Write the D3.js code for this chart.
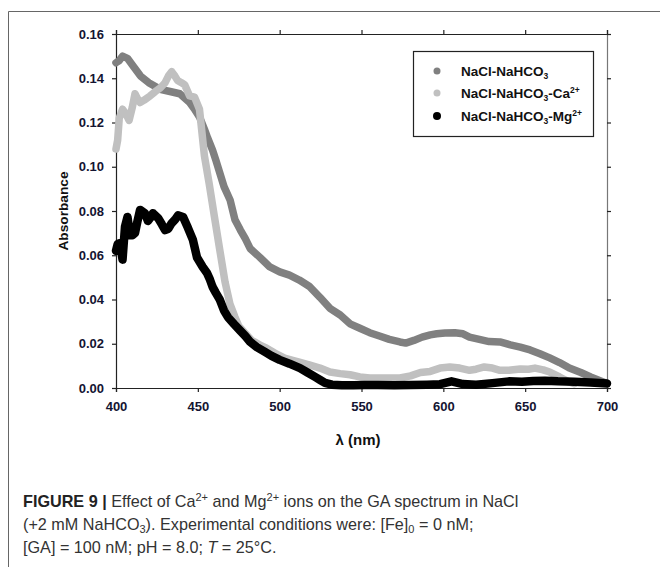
<!DOCTYPE html>
<html><head><meta charset="utf-8">
<script src="https://cdn.jsdelivr.net/npm/d3@7"></script>
<style>
body{margin:0;background:#fff;}
svg{display:block;}
</style></head>
<body>
<svg id="chart" width="660" height="567"></svg>
<script>
// ---- data ----
const xTicks = [400, 450, 500, 550, 600, 650, 700];
const yTicks = [0.00, 0.02, 0.04, 0.06, 0.08, 0.10, 0.12, 0.14, 0.16];

const seriesNames = ["NaCl-NaHCO3", "NaCl-NaHCO3-Ca2+", "NaCl-NaHCO3-Mg2+"];
const seriesColors = ["#808080", "#c0c0c0", "#000000"];

const lamA = [400,402,404,407,410,415,420,427,433,439,445,448,451,454,456,459,461,463.5,466,469.7,472.7,476,479,482,488,494,500,506,512,518,524.6,530.7,537,543,549,555,561,567,573.5,577,582,587,592,596,601,607,612,616,622,628,634.6,641,647,653,659,665,671,677,684,690,695,700];
const valA = [0.147,0.148,0.150,0.149,0.146,0.141,0.138,0.135,0.134,0.133,0.129,0.126,0.1225,0.117,0.113,0.1075,0.103,0.097,0.091,0.085,0.076,0.0714,0.0675,0.063,0.059,0.0547,0.0525,0.051,0.0488,0.046,0.041,0.036,0.033,0.029,0.027,0.025,0.0235,0.022,0.0208,0.0203,0.0215,0.023,0.024,0.0245,0.0249,0.025,0.0245,0.023,0.022,0.021,0.0208,0.0195,0.0185,0.0172,0.0155,0.0136,0.0115,0.009,0.007,0.005,0.0035,0.002];

const lamB = [400,401,402,404,406,408,410,411.6,413,414.7,417,420.8,424,427,430,432,434,436,437.6,440,442,445,448,451,454,457,460,463.5,466.6,469.6,472.7,475,478.8,483,488,492,497,503,508,512,518,524.6,530.7,537,543,549,555,561,567,573.5,580,586,592,598,604,610,616,620,625,630,634.6,640,647,652,656,661,665,671,676,680];
const valB = [0.108,0.112,0.122,0.126,0.124,0.121,0.127,0.133,0.131,0.129,0.130,0.132,0.134,0.1356,0.138,0.141,0.143,0.141,0.139,0.138,0.137,0.132,0.1315,0.126,0.105,0.092,0.078,0.062,0.048,0.038,0.032,0.028,0.0249,0.0215,0.0194,0.018,0.0158,0.0135,0.0125,0.0117,0.0105,0.009,0.0072,0.0065,0.006,0.005,0.0045,0.0045,0.0045,0.0045,0.0055,0.007,0.0075,0.009,0.0095,0.009,0.008,0.0085,0.0095,0.009,0.008,0.008,0.0086,0.0085,0.009,0.0082,0.0072,0.005,0.003,0.002];

const lamC = [400,401,402.4,404,405.5,407,408.6,410,411.6,413,414.7,417.7,419.5,421,422.6,425.7,428,430,432,434,436,437.9,441,444,447,449.5,453,455.6,457.4,459,461,463.5,466,468.4,472,475.8,479,482,486,491,495,500,506,512.4,517,521.6,525,527.7,532,538,545,552,560,570,580,590,598,605,612,620,630,640,648,655,662,670,680,690,700];
const valC = [0.062,0.065,0.0655,0.058,0.073,0.0773,0.069,0.069,0.070,0.075,0.0805,0.079,0.0755,0.077,0.079,0.0768,0.074,0.0714,0.072,0.0745,0.076,0.078,0.0773,0.0723,0.0669,0.059,0.0547,0.052,0.049,0.0457,0.043,0.0398,0.035,0.032,0.029,0.026,0.0235,0.0208,0.0185,0.0163,0.0145,0.0127,0.011,0.009,0.007,0.005,0.0035,0.0023,0.0015,0.0012,0.0012,0.0013,0.0013,0.0012,0.0013,0.0015,0.0017,0.003,0.0018,0.0015,0.0022,0.003,0.0028,0.0032,0.0033,0.003,0.0028,0.0025,0.002];

const seriesLam = [lamA, lamB, lamC];
const seriesVal = [valA, valB, valC];

// ---- layout ----
const svg = d3.select("#chart");
const margin = {left:116, right:607, top:34, bottom:388};
const x = d3.scaleLinear().domain([400,700]).range([margin.left, margin.right]);
const y = d3.scaleLinear().domain([0,0.16]).range([margin.bottom, margin.top]);

// outer frame (open to the right and bottom)
svg.append("path").attr("d","M8.5,567 L8.5,11.5 L660,11.5").attr("fill","none").attr("stroke","#666").attr("stroke-width",1);

const tickFont = "'Liberation Sans', Arial, sans-serif";

// axes
const gx = svg.append("g").attr("transform",`translate(0,${margin.bottom})`)
  .call(d3.axisBottom(x).tickValues(xTicks).tickSize(4).tickPadding(10).tickFormat(d3.format("d")));
const gxTop = svg.append("g").attr("transform",`translate(0,${margin.top})`)
  .call(d3.axisTop(x).tickValues(xTicks).tickSize(4).tickFormat(""));
const gy = svg.append("g").attr("transform",`translate(${margin.left},0)`)
  .call(d3.axisLeft(y).tickValues(yTicks).tickSize(4).tickPadding(8).tickFormat(d3.format(".2f")));
const gyR = svg.append("g").attr("transform",`translate(${margin.right},0)`)
  .call(d3.axisRight(y).tickValues(yTicks).tickSize(4).tickFormat(""));

[gx,gxTop,gy,gyR].forEach(g=>{
  g.selectAll(".domain").attr("stroke","#222").attr("stroke-width",1.2);
  g.selectAll(".tick line").attr("stroke","#222").attr("stroke-width",1.2);
  g.selectAll("text").attr("font-family",tickFont).attr("font-weight","bold").attr("font-size",13).attr("fill","#141432");
});
gyR.select(".domain").attr("stroke","#777");

// series
const line = d3.line().x(d=>x(d[0])).y(d=>y(d[1])).curve(d3.curveLinear);
const widths = [7.5, 7.5, 8.5];
[0,1,2].forEach(i=>{
  const pts = seriesLam[i].map((l,j)=>[l, seriesVal[i][j]]);
  svg.append("path").datum(pts).attr("d",line)
    .attr("fill","none").attr("stroke",seriesColors[i]).attr("stroke-width",widths[i])
    .attr("stroke-linejoin","round").attr("stroke-linecap","round");
});

// rich text helper (sub / sup)
function richText(t, parts, supSize, supDy, subDy){
  let shift = 0;
  parts.forEach(p=>{
    const ts = t.append("tspan").text(p.t);
    if(p.b) ts.attr("font-weight","bold").attr("fill","#222");
    if(p.i) ts.attr("font-style","italic");
    const target = p.sup ? supDy : (p.sub ? subDy : 0);
    if(p.sup||p.sub) ts.attr("font-size",supSize);
    ts.attr("dy", target - shift);
    shift = target;
  });
}

// legend
const lg = svg.append("g");
lg.append("rect").attr("x",413.5).attr("y",51.5).attr("width",180).attr("height",85)
  .attr("fill","#fff").attr("stroke","#222").attr("stroke-width",1.2);
const legY = [71, 93, 116];
const legR = [3.5, 3.5, 4];
const legText = [
  [{t:"NaCl-NaHCO"},{t:"3",sub:true}],
  [{t:"NaCl-NaHCO"},{t:"3",sub:true},{t:"-Ca"},{t:"2+",sup:true}],
  [{t:"NaCl-NaHCO"},{t:"3",sub:true},{t:"-Mg"},{t:"2+",sup:true}]
];
legText.forEach((parts,i)=>{
  lg.append("circle").attr("cx",437).attr("cy",legY[i]).attr("r",legR[i]).attr("fill",seriesColors[i]);
  const t = lg.append("text").attr("x",461).attr("y",legY[i]+4.5)
    .attr("font-family",tickFont).attr("font-weight","bold").attr("font-size",13.5).attr("fill","#111");
  richText(t, parts, 8.5, -5, 3);
});

// axis titles
svg.append("text").attr("transform","translate(67.5,211) rotate(-90)").attr("text-anchor","middle")
  .attr("font-family",tickFont).attr("font-weight","bold").attr("font-size",13.7).attr("fill","#111").text("Absorbance");
svg.append("text").attr("x",358).attr("y",445).attr("text-anchor","middle")
  .attr("font-family",tickFont).attr("font-weight","bold").attr("font-size",15).attr("fill","#111").text("λ (nm)");

// caption
const cap = svg.append("g").attr("font-family","'Liberation Sans',Arial,sans-serif").attr("font-size",16.2).attr("fill","#333");
function capLine(yy, parts){
  const t = cap.append("text").attr("x",23).attr("y",yy);
  richText(t, parts, 11, -6, 3);
}
capLine(507,[{t:"FIGURE 9 | ",b:true},{t:"Effect of Ca"},{t:"2+",sup:true},{t:" and Mg"},{t:"2+",sup:true},{t:" ions on the GA spectrum in NaCl"}]);
capLine(530,[{t:"(+2 mM NaHCO"},{t:"3",sub:true},{t:"). Experimental conditions were: [Fe]"},{t:"0",sub:true},{t:" = 0 nM;"}]);
capLine(553,[{t:"[GA] = 100 nM; pH = 8.0; "},{t:"T",i:true},{t:" = 25°C."}]);
</script>
</body></html>
